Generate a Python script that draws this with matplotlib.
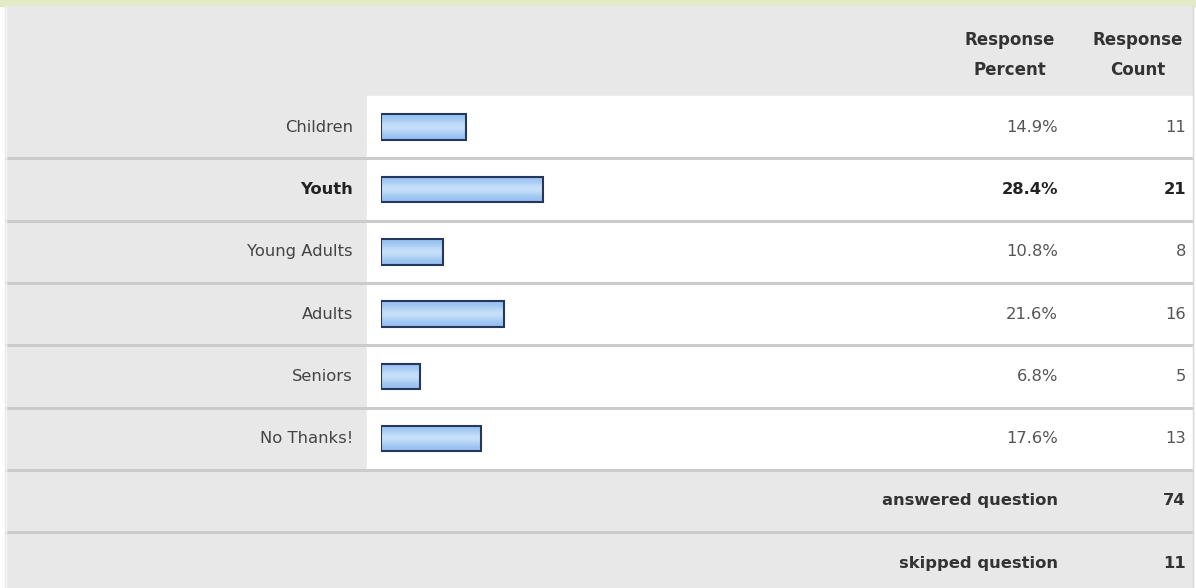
import matplotlib.pyplot as plt
import numpy as np
from matplotlib.patches import Rectangle

# survey answers
categories = ["Children", "Youth", "Young Adults", "Adults", "Seniors", "No Thanks!"]
percents = [14.9, 28.4, 10.8, 21.6, 6.8, 17.6]
counts = [11, 21, 8, 16, 5, 13]
highlight = "Youth"
answered = 74
skipped = 11

W, H = 1196, 588
row_top = 96
row_h = 62.3
label_right = 367
bar_left = 381
px_per_pct = 5.7

fig = plt.figure(figsize=(W / 100, H / 100), dpi=100)
ax = fig.add_axes([0, 0, 1, 1])
ax.set_xlim(0, W)
ax.set_ylim(H, 0)
ax.set_axis_off()

grey = "#e8e8e8"
line = "#cbcbcb"

# background panels
ax.add_patch(Rectangle((0, 0), W, H, color="white", zorder=0))
ax.add_patch(Rectangle((0, 0), W, 6, color="#e2eac6", zorder=1))
ax.add_patch(Rectangle((5, 6), 1188, H - 6, color=grey, zorder=1))
n = len(categories)
ax.add_patch(Rectangle((label_right, row_top), 1193 - label_right, n * row_h,
                       color="white", zorder=2))
for i in range(n + 2):
    y = row_top + (i + 1) * row_h
    ax.plot([5, 1193], [y, y], color=line, lw=2.2, zorder=3, solid_capstyle="butt")
ax.plot([5.5, 5.5], [6, H], color="#f4f4f4", lw=1, zorder=3)
ax.plot([1192.5, 1192.5], [6, H], color="#d8d8d8", lw=1, zorder=3)

txt = dict(family="DejaVu Sans", fontsize=11.8, va="center")

# header
hdr = dict(txt, fontsize=12, color="#333333", fontweight="bold", ha="center")
ax.text(1010, 40, "Response", **hdr)
ax.text(1010, 70, "Percent", **hdr)
ax.text(1138, 40, "Response", **hdr)
ax.text(1138, 70, "Count", **hdr)

# bar area: percent scale in data units
bax = fig.add_axes([bar_left / W, 1 - (row_top + n * row_h) / H,
                    100 * px_per_pct / W, n * row_h / H])
bax.set_xlim(0, 100)
bax.set_ylim(n - 0.5, -0.5)
bax.set_axis_off()
bax.patch.set_alpha(0)

# vertical shading used inside each bar
shade = np.array([0.45, 0.55, 0.85, 1.0, 0.8, 0.55, 0.4])
dark, light = np.array([0.44, 0.66, 0.92]), np.array([0.80, 0.89, 0.98])
grad_img = (dark + np.outer(shade, light - dark)).reshape(len(shade), 1, 3)

bars = bax.barh(range(n), percents, height=0.41, left=0,
                facecolor="none", edgecolor="#26375e", linewidth=1.5, zorder=3)
for i, b in enumerate(bars):
    img = bax.imshow(grad_img, extent=(0, percents[i], i + 0.205, i - 0.205),
                     aspect="auto", interpolation="bicubic", zorder=2.5)
    img.set_clip_path(b)

for i, cat in enumerate(categories):
    y = row_top + (i + 0.5) * row_h
    bold = cat == highlight
    w = "bold" if bold else "normal"
    ax.text(353, y, cat, ha="right", color="#222222" if bold else "#444444",
            fontweight=w, **txt)
    ax.text(1058, y, f"{percents[i]:.1f}%", ha="right",
            color="#222222" if bold else "#555555", fontweight=w, **txt)
    ax.text(1186, y, str(counts[i]), ha="right",
            color="#222222" if bold else "#555555", fontweight=w, **txt)

y_ans = row_top + (n + 0.5) * row_h
y_skip = row_top + (n + 1.5) * row_h
foot = dict(txt, color="#333333", fontweight="bold", ha="right")
ax.text(1058, y_ans, "answered question", **foot)
ax.text(1186, y_ans, str(answered), **foot)
ax.text(1058, y_skip, "skipped question", **foot)
ax.text(1186, y_skip, str(skipped), **foot)

fig.savefig("out.png", dpi=100)
